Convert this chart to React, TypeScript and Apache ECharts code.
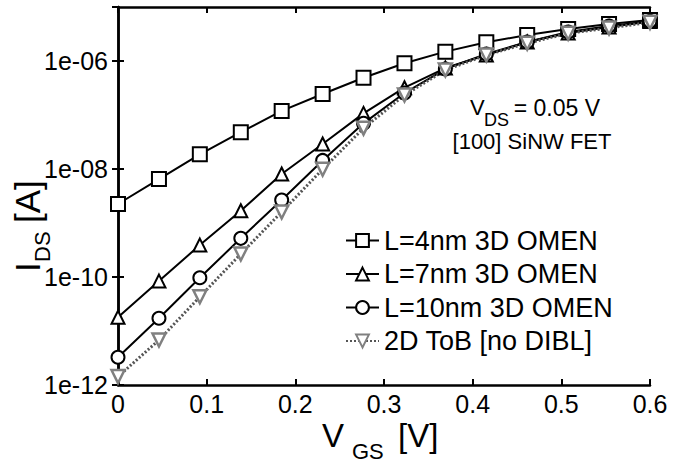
import React, { useEffect, useRef } from 'react';
import * as echarts from 'echarts';

// V_GS sample points [V]
const vgs = [0, 0.0462, 0.0923, 0.1385, 0.1846, 0.2308, 0.2769, 0.3231, 0.3692, 0.4154, 0.4615, 0.5077, 0.5538, 0.6];

// I_DS [A]
const iL4nm = [2.25e-9, 6.5e-9, 1.87e-8, 4.8e-8, 1.19e-7, 2.45e-7, 4.9e-7, 9.1e-7, 1.49e-6, 2.22e-6, 3.03e-6, 3.92e-6, 4.84e-6, 5.74e-6];
const iL7nm = [1.8e-11, 8.4e-11, 3.9e-10, 1.69e-9, 8.1e-9, 2.9e-8, 1.07e-7, 3.2e-7, 7.4e-7, 1.29e-6, 2.25e-6, 3.3e-6, 4.27e-6, 5.4e-6];
const iL10nm = [3.26e-12, 1.72e-11, 9.7e-11, 5.2e-10, 2.67e-9, 1.44e-8, 7.0e-8, 2.55e-7, 7.1e-7, 1.35e-6, 2.25e-6, 3.44e-6, 4.45e-6, 5.4e-6];
const iToB = [1.43e-12, 6.8e-12, 4.3e-11, 2.67e-10, 1.6e-9, 9.9e-9, 5.7e-8, 2.34e-7, 6.8e-7, 1.29e-6, 2.13e-6, 3.26e-6, 4.08e-6, 5.2e-6];

const seriesNames = ['L=4nm 3D OMEN', 'L=7nm 3D OMEN', 'L=10nm 3D OMEN', '2D ToB [no DIBL]'];

const FONT = '"Liberation Sans", Arial, Helvetica, sans-serif';

export default function App() {
  const ref = useRef<HTMLDivElement>(null);

  useEffect(() => {
    if (!ref.current) return;
    const chart = echarts.init(ref.current, undefined, { renderer: 'svg' });

    const axisLine = { show: true, lineStyle: { color: '#000', width: 2.5 } };
    const axisTick = { show: true, inside: true, length: 6, lineStyle: { color: '#000', width: 2 } };

    const yFmt = (v: number) => {
      const e = Math.round(Math.log10(v));
      const a = Math.abs(e);
      return '1e' + (e < 0 ? '-' : '+') + (a < 10 ? '0' + a : String(a));
    };
    const xFmt = (v: number) => (Math.abs(v) < 1e-9 ? '0' : v.toFixed(1));

    const mk = (name: string, arr: number[], symbol: string, size: number, extra: any = {}) => ({
      name,
      type: 'line',
      data: vgs.map((x, i) => [x, arr[i]]),
      symbol,
      symbolSize: size,
      showAllSymbol: true,
      lineStyle: { color: '#000', width: 2 },
      itemStyle: { color: '#fff', borderColor: '#000', borderWidth: 2 },
      emphasis: { disabled: true },
      ...extra,
    });

    chart.setOption({
      animation: false,
      backgroundColor: '#fff',
      textStyle: { fontFamily: FONT },
      grid: { left: 118, right: 39, top: 7, bottom: 78, containLabel: false },
      xAxis: [
        {
          type: 'value', min: 0, max: 0.6, interval: 0.1, position: 'bottom',
          axisLine, axisTick,
          splitLine: { show: false },
          axisLabel: { fontSize: 25, color: '#000', margin: 6, fontFamily: FONT, formatter: xFmt },
        },
        {
          type: 'value', min: 0, max: 0.6, interval: 0.1, position: 'top',
          axisLine, axisTick,
          splitLine: { show: false },
          axisLabel: { show: false },
        },
      ],
      yAxis: [
        {
          type: 'log', logBase: 10, min: 1e-12, max: 1e-5, interval: 2, position: 'left',
          axisLine, axisTick,
          splitLine: { show: false },
          minorTick: { show: false },
          axisLabel: { fontSize: 25, color: '#000', margin: 10, fontFamily: FONT, formatter: yFmt, showMaxLabel: false },
        },
        {
          type: 'log', logBase: 10, min: 1e-12, max: 1e-5, interval: 2, position: 'right',
          axisLine, axisTick,
          splitLine: { show: false },
          minorTick: { show: false },
          axisLabel: { show: false },
        },
      ],
      legend: {
        orient: 'vertical',
        left: 345,
        top: 227,
        padding: 0,
        itemWidth: 33,
        itemHeight: 16,
        itemGap: 6.5,
        selectedMode: false,
        textStyle: { fontSize: 27, color: '#000', fontFamily: FONT, lineHeight: 27 },
        data: seriesNames,
      },
      series: [
        mk(seriesNames[0], iL4nm, 'rect', 14),
        mk(seriesNames[1], iL7nm, 'triangle', 13),
        mk(seriesNames[2], iL10nm, 'circle', 13),
        mk(seriesNames[3], iToB, 'triangle', 13, {
          symbolRotate: 180,
          lineStyle: { color: '#555', width: 3, type: [2, 2] },
          itemStyle: { color: '#fff', borderColor: '#808080', borderWidth: 2.5 },
        }),
      ],
      graphic: [
        // X axis title: V_GS [V]
        { type: 'text', style: { text: 'V', x: 322, y: 435, fontSize: 33, fontFamily: FONT, fill: '#000', textAlign: 'left', textVerticalAlign: 'middle' } },
        { type: 'text', style: { text: 'GS', x: 352, y: 451, fontSize: 22, fontFamily: FONT, fill: '#000', textAlign: 'left', textVerticalAlign: 'middle' } },
        { type: 'text', style: { text: '[V]', x: 398, y: 435, fontSize: 33, fontFamily: FONT, fill: '#000', textAlign: 'left', textVerticalAlign: 'middle' } },
        // Y axis title: I_DS [A], rotated
        {
          type: 'group', x: 40, y: 272, rotation: Math.PI / 2,
          children: [
            { type: 'text', style: { text: 'I', x: 0, y: -12.5, fontSize: 35, fontFamily: FONT, fill: '#000', textAlign: 'left', textVerticalAlign: 'middle' } },
            { type: 'text', style: { text: 'DS', x: 10, y: 2, fontSize: 22, fontFamily: FONT, fill: '#000', textAlign: 'left', textVerticalAlign: 'middle' } },
            { type: 'text', style: { text: '[A]', x: 49, y: -12.5, fontSize: 35, fontFamily: FONT, fill: '#000', textAlign: 'left', textVerticalAlign: 'middle' } },
          ],
        },
        // Annotation
        { type: 'text', style: { text: 'V', x: 470, y: 107.5, fontSize: 22, fontFamily: FONT, fill: '#000', textAlign: 'left', textVerticalAlign: 'middle' } },
        { type: 'text', style: { text: 'DS', x: 484, y: 120, fontSize: 18, fontFamily: FONT, fill: '#000', textAlign: 'left', textVerticalAlign: 'middle' } },
        { type: 'text', style: { text: '= 0.05 V', x: 600, y: 107.5, fontSize: 23, fontFamily: FONT, fill: '#000', textAlign: 'right', textVerticalAlign: 'middle' } },
        { type: 'text', style: { text: '[100] SiNW FET', x: 532, y: 141.5, fontSize: 22, fontFamily: FONT, fill: '#000', textAlign: 'center', textVerticalAlign: 'middle' } },
      ],
    });

    return () => chart.dispose();
  }, []);

  return (
    <div
      ref={ref}
      style={{ position: 'fixed', left: 0, top: 0, width: 689, height: 463, background: '#fff' }}
    />
  );
}
